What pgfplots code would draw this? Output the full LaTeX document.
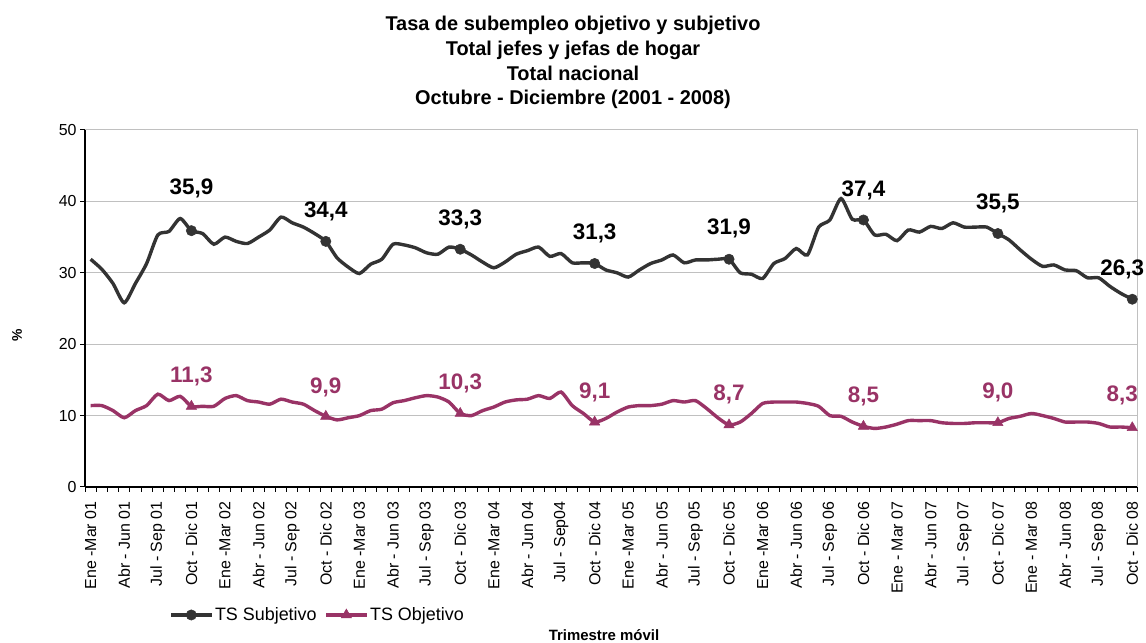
\documentclass[border=0pt]{standalone}
\usepackage{fontspec}
\setmainfont{Liberation Sans}
\usepackage{pgfplots}
\usepackage{pgfplotstable}
\pgfplotsset{compat=1.18}
\definecolor{subj}{HTML}{333333}
\definecolor{obj}{HTML}{993366}
\definecolor{gridc}{HTML}{C0C0C0}

\pgfplotstableread{
i s o
0 31.9 11.4
1 30.5 11.4
2 28.5 10.7
3 25.8 9.7
4 28.5 10.7
5 31.3 11.4
6 35.3 13.0
7 35.8 12.1
8 37.6 12.7
9 35.9 11.3
10 35.5 11.3
11 34.0 11.3
12 35.0 12.4
13 34.4 12.8
14 34.1 12.1
15 35.0 11.9
16 36.0 11.6
17 37.8 12.3
18 37.0 11.9
19 36.4 11.6
20 35.5 10.7
21 34.4 9.9
22 32.1 9.4
23 30.8 9.7
24 29.9 10.0
25 31.2 10.7
26 31.9 10.9
27 34.0 11.8
28 33.9 12.1
29 33.5 12.5
30 32.8 12.8
31 32.6 12.6
32 33.6 11.9
33 33.3 10.3
34 32.5 10.0
35 31.5 10.7
36 30.7 11.2
37 31.5 11.9
38 32.6 12.2
39 33.1 12.3
40 33.6 12.8
41 32.3 12.4
42 32.7 13.3
43 31.4 11.4
44 31.4 10.3
45 31.3 9.1
46 30.4 9.6
47 30.0 10.5
48 29.4 11.2
49 30.4 11.4
50 31.3 11.4
51 31.8 11.6
52 32.5 12.1
53 31.4 11.9
54 31.8 12.1
55 31.8 11.0
56 31.9 9.7
57 31.9 8.7
58 30.0 9.1
59 29.8 10.3
60 29.2 11.7
61 31.3 11.9
62 32.0 11.9
63 33.4 11.9
64 32.5 11.7
65 36.4 11.3
66 37.4 10.0
67 40.4 9.9
68 37.5 9.1
69 37.4 8.5
70 35.3 8.2
71 35.4 8.4
72 34.5 8.8
73 36.0 9.3
74 35.7 9.3
75 36.5 9.3
76 36.2 9.0
77 37.0 8.9
78 36.4 8.9
79 36.4 9.0
80 36.4 9.0
81 35.5 9.0
82 34.6 9.6
83 33.2 9.9
84 31.9 10.3
85 30.9 10.0
86 31.1 9.6
87 30.4 9.1
88 30.3 9.1
89 29.3 9.1
90 29.3 8.9
91 28.1 8.4
92 27.1 8.4
93 26.3 8.3
}\datatable

\begin{document}
\begin{tikzpicture}
\path[use as bounding box] (0,0) rectangle (1146bp,643bp);
% title
\node[anchor=base, font=\fontsize{20}{24}\selectfont\bfseries] at (573bp,612bp) {Tasa de subempleo objetivo y subjetivo};
\node[anchor=base, font=\fontsize{20}{24}\selectfont\bfseries] at (573bp,587bp) {Total jefes y jefas de hogar};
\node[anchor=base, font=\fontsize{20}{24}\selectfont\bfseries] at (573bp,562.5bp) {Total nacional};
\node[anchor=base, font=\fontsize{20}{24}\selectfont\bfseries] at (573bp,538bp) {Octubre - Diciembre (2001 - 2008)};
% axis titles
\node[rotate=90, font=\fontsize{14}{16}\selectfont\bfseries] at (17bp,308bp) {\%};
\node[anchor=base, font=\fontsize{15}{18}\selectfont\bfseries] at (604bp,2.5bp) {Trimestre móvil};

\begin{axis}[
  at={(85bp,156bp)}, anchor=south west,
  scale only axis, width=1053bp, height=357bp,
  xmin=-0.5, xmax=93.5, ymin=0, ymax=50,
  axis x line*=bottom, axis y line*=left,
  axis line style={black, line width=1.2bp, -},
  ytick={0,10,...,50},
  ymajorgrids, grid style={gridc, line width=1bp},
  tick align=outside,
  major tick length=5bp,
  tick style={black, line width=1bp},
  xtick={-0.5,0.5,...,93.5},
  xticklabels={},
  extra x ticks={0,3,...,93},
  extra x tick style={major tick length=0pt, grid=none},
  extra x tick labels={Ene -Mar 01,Abr - Jun 01,Jul - Sep 01,Oct - Dic 01,
    Ene -Mar 02,Abr - Jun 02,Jul - Sep 02,Oct - Dic 02,
    Ene -Mar 03,Abr - Jun 03,Jul - Sep 03,Oct - Dic 03,
    Ene -Mar 04,Abr - Jun 04,Jul - Sep04,Oct - Dic 04,
    Ene -Mar 05,Abr - Jun 05,Jul - Sep 05,Oct - Dic 05,
    Ene -Mar 06,Abr - Jun 06,Jul - Sep 06,Oct - Dic 06,
    Ene - Mar 07,Abr - Jun 07,Jul - Sep 07,Oct - Dic 07,
    Ene - Mar 08,Abr - Jun 08,Jul - Sep 08,Oct - Dic  08},
  xticklabel style={rotate=90, anchor=east, font=\fontsize{16}{18}\selectfont, xshift=-11bp},
  yticklabel style={font=\fontsize{16}{18}\selectfont},
  /pgf/number format/assume math mode=true,
  legend columns=2,
  legend style={draw=none, fill=none, at={(0.221,-0.3585)}, anchor=center,
    font=\fontsize{18}{21}\selectfont, inner sep=0pt,
    /tikz/every even column/.append style={column sep=6bp}},
  legend image code/.code={%
    \draw[mark repeat=2,mark phase=2] plot coordinates {(0bp,0bp) (20bp,0bp) (40bp,0bp)};},
  clip=false,
]
\addplot[subj, line width=3.4bp, smooth, tension=0.4, mark=*, mark repeat=12, mark phase=10,
  mark options={scale=2.6, fill=subj, draw=subj, line width=0.5bp}] table[x=i, y=s] {\datatable};
\addlegendentry{TS Subjetivo}
\addplot[obj, line width=3.4bp, smooth, tension=0.4, mark=triangle*, mark repeat=12, mark phase=10,
  mark options={scale=3.0, fill=obj, draw=obj, line width=0.5bp}] table[x=i, y=o] {\datatable};
\addlegendentry{TS Objetivo}

\draw[gridc, line width=1bp] (rel axis cs:1,0) -- (rel axis cs:1,1);

\begin{scope}[every node/.style={font=\fontsize{22.5}{26}\selectfont\bfseries}]
\node[black] at (axis cs:9,35.9) [yshift=42bp] {35,9};
\node[black] at (axis cs:21,34.4) [yshift=30bp] {34,4};
\node[black] at (axis cs:33,33.3) [yshift=30bp] {33,3};
\node[black] at (axis cs:45,31.3) [yshift=30bp] {31,3};
\node[black] at (axis cs:57,31.9) [yshift=31bp] {31,9};
\node[black] at (axis cs:69,37.4) [yshift=30bp] {37,4};
\node[black] at (axis cs:81,35.5) [yshift=30bp] {35,5};
\node[black] at (axis cs:93,26.3) [yshift=30bp, xshift=-10bp] {26,3};
\node[obj] at (axis cs:9,11.3) [yshift=30bp] {11,3};
\node[obj] at (axis cs:21,9.9) [yshift=29bp] {9,9};
\node[obj] at (axis cs:33,10.3) [yshift=30bp] {10,3};
\node[obj] at (axis cs:45,9.1) [yshift=30bp] {9,1};
\node[obj] at (axis cs:57,8.7) [yshift=30bp] {8,7};
\node[obj] at (axis cs:69,8.5) [yshift=30bp] {8,5};
\node[obj] at (axis cs:81,9.0) [yshift=30bp] {9,0};
\node[obj] at (axis cs:93,8.3) [yshift=32bp, xshift=-10bp] {8,3};
\end{scope}
\end{axis}
\end{tikzpicture}
\end{document}
